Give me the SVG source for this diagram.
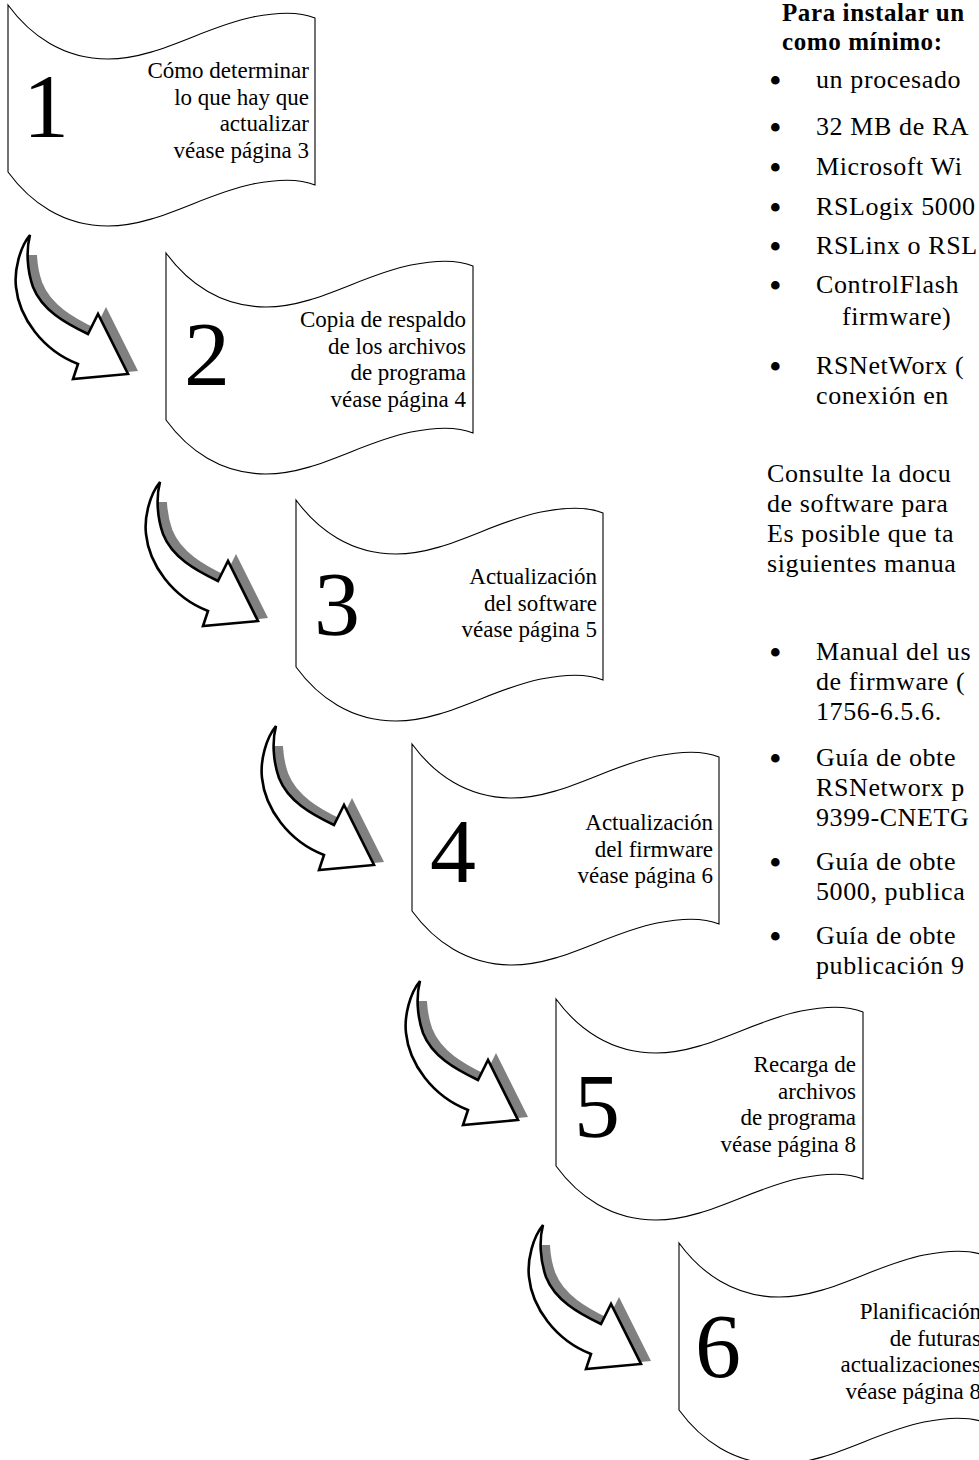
<svg xmlns="http://www.w3.org/2000/svg" xmlns:xlink="http://www.w3.org/1999/xlink" width="979" height="1460" viewBox="0 0 979 1460">
<style>
.wave{fill:#fff;stroke:#000;stroke-width:1.1}
.arr{fill:#fff;stroke:#000;stroke-width:2.6;stroke-linejoin:miter}
.shd{fill:#808080;stroke:#808080;stroke-width:2.6}
.nt{font-family:"Liberation Serif",serif;font-size:23px;text-anchor:end;fill:#000}
.num{font-family:"Liberation Serif",serif;font-size:92px;fill:#000}
.rt{font-family:"Liberation Serif",serif;font-size:26px;letter-spacing:0.6px;fill:#000}
.bl{font-family:"Liberation Serif",serif;font-size:36px;fill:#000}
.hd{font-family:"Liberation Serif",serif;font-size:25px;letter-spacing:0.6px;font-weight:bold;fill:#000}
</style>
<defs>
<path id="wave" d="M0,0 C22,30 55,54 100,54 C150,54 195,22 245,12 C275,6 295,8 307,13 V180 C295,175 275,173 245,179 C195,189 150,221 100,221 C55,221 22,197 0,167 Z"/>
<path id="arrow" d="M0,0 C-10,12 -16,35 -14,52 C-11,82 12,115 48,129 L43,144 L98,139 L68,79 L58,99 C35,88 12,75 3,52 C-3,35 -4,15 0,0 Z"/>
<clipPath id="shclip"><rect x="-40" y="24" width="200" height="200"/></clipPath>
</defs>

<g id="connectors">
  <g transform="translate(30,235)"><use xlink:href="#arrow" class="shd" transform="translate(8,-4)" clip-path="url(#shclip)"/><use xlink:href="#arrow" class="arr"/></g>
  <g transform="translate(160,482)"><use xlink:href="#arrow" class="shd" transform="translate(8,-4)" clip-path="url(#shclip)"/><use xlink:href="#arrow" class="arr"/></g>
  <g transform="translate(276,726)"><use xlink:href="#arrow" class="shd" transform="translate(8,-4)" clip-path="url(#shclip)"/><use xlink:href="#arrow" class="arr"/></g>
  <g transform="translate(420,981)"><use xlink:href="#arrow" class="shd" transform="translate(8,-4)" clip-path="url(#shclip)"/><use xlink:href="#arrow" class="arr"/></g>
  <g transform="translate(543,1225)"><use xlink:href="#arrow" class="shd" transform="translate(8,-4)" clip-path="url(#shclip)"/><use xlink:href="#arrow" class="arr"/></g>
</g>

<g id="node1" transform="translate(8,5)">
  <use xlink:href="#wave" class="wave"/>
  <text class="num" x="15" y="132">1</text>
  <text class="nt" x="301" y="73">Cómo determinar</text>
  <text class="nt" x="301" y="99.5">lo que hay que</text>
  <text class="nt" x="301" y="126">actualizar</text>
  <text class="nt" x="301" y="152.5">véase página 3</text>
</g>
<g id="node2" transform="translate(166,253)">
  <use xlink:href="#wave" class="wave"/>
  <text class="num" x="18" y="132">2</text>
  <text class="nt" x="300" y="74">Copia de respaldo</text>
  <text class="nt" x="300" y="100.5">de los archivos</text>
  <text class="nt" x="300" y="127">de programa</text>
  <text class="nt" x="300" y="153.5">véase página 4</text>
</g>
<g id="node3" transform="translate(296,500)">
  <use xlink:href="#wave" class="wave"/>
  <text class="num" x="18" y="135">3</text>
  <text class="nt" x="301" y="84">Actualización</text>
  <text class="nt" x="301" y="110.5">del software</text>
  <text class="nt" x="301" y="137">véase página 5</text>
</g>
<g id="node4" transform="translate(412,744)">
  <use xlink:href="#wave" class="wave"/>
  <text class="num" x="18" y="138">4</text>
  <text class="nt" x="301" y="86">Actualización</text>
  <text class="nt" x="301" y="112.5">del firmware</text>
  <text class="nt" x="301" y="139">véase página 6</text>
</g>
<g id="node5" transform="translate(556,999)">
  <use xlink:href="#wave" class="wave"/>
  <text class="num" x="18" y="138">5</text>
  <text class="nt" x="300" y="73">Recarga de</text>
  <text class="nt" x="300" y="99.5">archivos</text>
  <text class="nt" x="300" y="126">de programa</text>
  <text class="nt" x="300" y="152.5">véase página 8</text>
</g>
<g id="node6" transform="translate(679,1243)">
  <use xlink:href="#wave" class="wave"/>
  <text class="num" x="16" y="134">6</text>
  <text class="nt" x="302" y="76">Planificación</text>
  <text class="nt" x="302" y="102.5">de futuras</text>
  <text class="nt" x="302" y="129">actualizaciones</text>
  <text class="nt" x="302" y="155.5">véase página 8</text>
</g>

<g id="requirements">
  <text class="hd" x="782" y="21">Para instalar un</text>
  <text class="hd" x="782" y="50">como mínimo:</text>
  <text class="bl" x="769" y="93">•</text><text class="rt" x="816" y="88">un procesado</text>
  <text class="bl" x="769" y="140">•</text><text class="rt" x="816" y="135">32 MB de RA</text>
  <text class="bl" x="769" y="180">•</text><text class="rt" x="816" y="175">Microsoft Wi</text>
  <text class="bl" x="769" y="220">•</text><text class="rt" x="816" y="215">RSLogix 5000</text>
  <text class="bl" x="769" y="259">•</text><text class="rt" x="816" y="254">RSLinx o RSL</text>
  <text class="bl" x="769" y="298">•</text><text class="rt" x="816" y="293">ControlFlash</text>
  <text class="rt" x="842" y="325">firmware)</text>
  <text class="bl" x="769" y="379">•</text><text class="rt" x="816" y="374">RSNetWorx (</text>
  <text class="rt" x="816" y="404">conexión en</text>
  <text class="rt" x="767" y="482">Consulte la docu</text>
  <text class="rt" x="767" y="512">de software para</text>
  <text class="rt" x="767" y="542">Es posible que ta</text>
  <text class="rt" x="767" y="572">siguientes manua</text>
  <text class="bl" x="769" y="665">•</text><text class="rt" x="816" y="660">Manual del us</text>
  <text class="rt" x="816" y="690">de firmware (</text>
  <text class="rt" x="816" y="720">1756-6.5.6.</text>
  <text class="bl" x="769" y="771">•</text><text class="rt" x="816" y="766">Guía de obte</text>
  <text class="rt" x="816" y="796">RSNetworx p</text>
  <text class="rt" x="816" y="826">9399-CNETG</text>
  <text class="bl" x="769" y="875">•</text><text class="rt" x="816" y="870">Guía de obte</text>
  <text class="rt" x="816" y="900">5000, publica</text>
  <text class="bl" x="769" y="949">•</text><text class="rt" x="816" y="944">Guía de obte</text>
  <text class="rt" x="816" y="974">publicación 9</text>
</g>
</svg>
